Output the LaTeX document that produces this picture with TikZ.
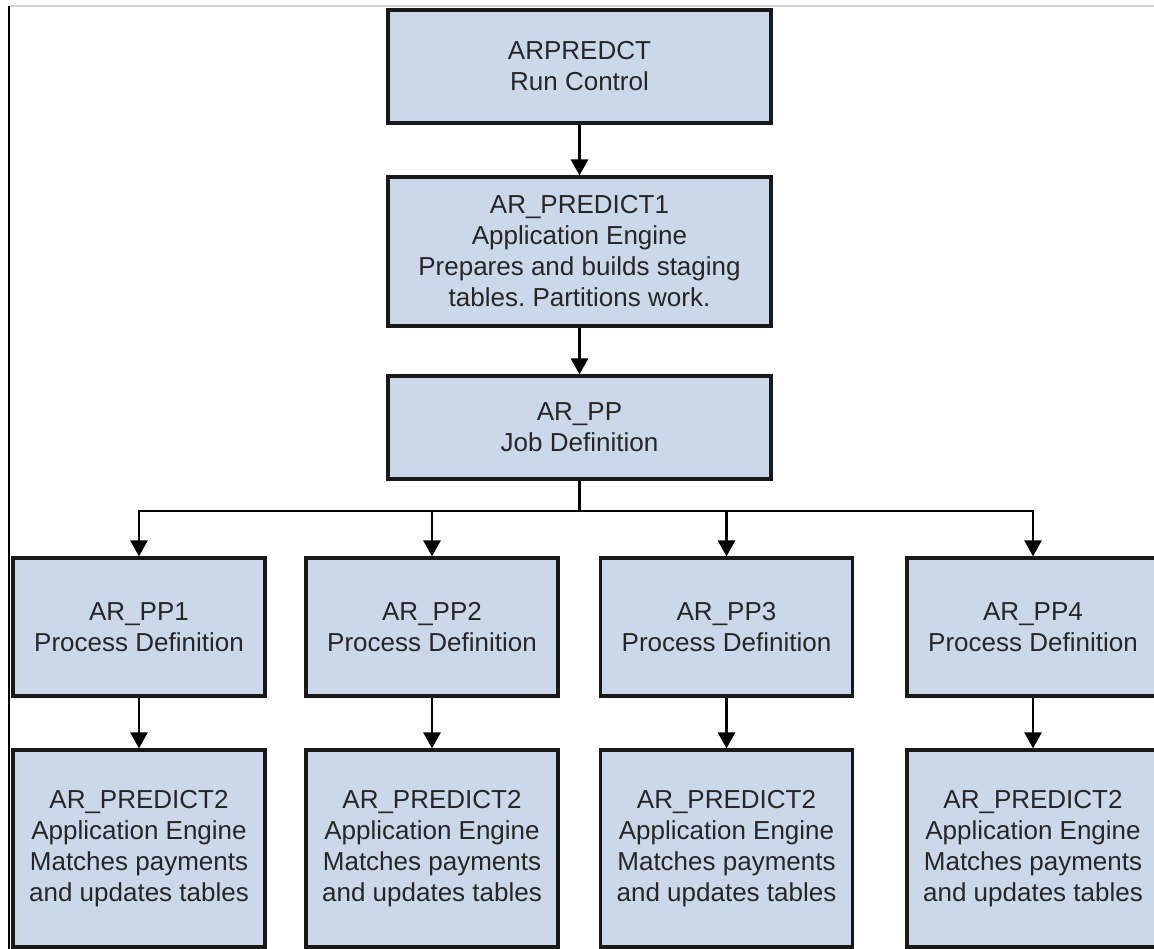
\documentclass[tikz,border=0pt]{standalone}
\usepackage{fontspec}
\setmainfont{Liberation Sans}
\usetikzlibrary{arrows.meta}
\definecolor{boxfill}{HTML}{CBD8EA}
\definecolor{textgray}{HTML}{262626}
\definecolor{edgegray}{HTML}{D4D4D4}
\frenchspacing
\begin{document}
\begin{tikzpicture}[x=1pt,y=-1pt,
  box/.style={draw=black!90, line width=3.2pt, fill=boxfill, text=textgray,
    align=center, font=\fontsize{26}{31}\selectfont, inner sep=0pt},
  topbox/.style={box, minimum width=383pt},
  rowbox/.style={box, minimum width=252pt},
  conn/.style={line width=2.8pt, -{Triangle[width=17pt,length=16pt]}},
  frame/.style={line width=1.8pt}]
\useasboundingbox (0,0) rectangle (1154,949);
% page frame
\coordinate (tl) at (9,6);
\coordinate (tr) at (1154,6);
\coordinate (bl) at (9,949);
\draw[edgegray, line width=1.5pt] (tl) -- (tr);
\draw[frame] (tl) -- (bl);
% main column
\node[topbox, minimum height=113pt] (b1) at (579.5,66.5) {ARPREDCT\\Run Control};
\node[topbox, minimum height=149pt] (b2) at (579.5,251.5) {AR\_PREDICT1\\Application Engine\\Prepares and builds staging\\tables. Partitions work.};
\node[topbox, minimum height=103pt] (b3) at (579.5,427.5) {AR\_PP\\Job Definition};
% process definitions
\node[rowbox, minimum height=138pt] (p1) at (139,627) {AR\_PP1\\Process Definition};
\node[rowbox, minimum height=138pt] (p2) at (432,627) {AR\_PP2\\Process Definition};
\node[rowbox, minimum height=138pt] (p3) at (726.5,627) {AR\_PP3\\Process Definition};
\node[rowbox, minimum height=138pt] (p4) at (1033,627) {AR\_PP4\\Process Definition};
% application engines
\node[rowbox, minimum height=197pt] (a1) at (139,848.5) {AR\_PREDICT2\\Application Engine\\Matches payments\\and updates tables};
\node[rowbox, minimum height=197pt] (a2) at (432,848.5) {AR\_PREDICT2\\Application Engine\\Matches payments\\and updates tables};
\node[rowbox, minimum height=197pt] (a3) at (726.5,848.5) {AR\_PREDICT2\\Application Engine\\Matches payments\\and updates tables};
\node[rowbox, minimum height=197pt] (a4) at (1033,848.5) {AR\_PREDICT2\\Application Engine\\Matches payments\\and updates tables};
% connectors
\coordinate (split) at (579.5,511);
\draw[conn] (b1) -- (b2);
\draw[conn] (b2) -- (b3);
\draw[conn] (b3.south) -- (split) -| (p1.north);
\draw[conn] (b3.south) -- (split) -| (p2.north);
\draw[conn] (b3.south) -- (split) -| (p3.north);
\draw[conn] (b3.south) -- (split) -| (p4.north);
\draw[conn] (p1) -- (a1);
\draw[conn] (p2) -- (a2);
\draw[conn] (p3) -- (a3);
\draw[conn] (p4) -- (a4);
\end{tikzpicture}
\end{document}
